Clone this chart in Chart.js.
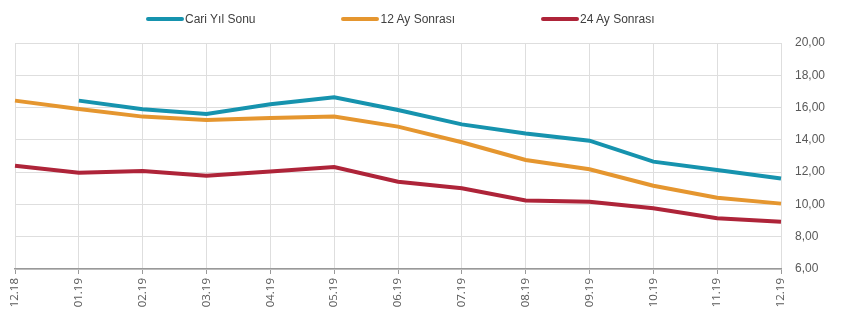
<!DOCTYPE html>
<html>
<head>
<meta charset="utf-8">
<script src="https://cdn.jsdelivr.net/npm/chart.js@4/dist/chart.umd.min.js"></script>
<style>
  body { margin: 0; background: #fff; }
  #wrap { position: relative; width: 850px; height: 328px; }
  #legend { position: absolute; top: 11px; left: 146px; font-family: "Liberation Sans", sans-serif; font-size: 12px; color: #404040; display: flex; line-height: 16px; }
  #legend .item { display: flex; align-items: center; margin-right: 86px; }
  #legend .swatch { width: 38px; height: 4px; border-radius: 2px; margin-right: 1px; }
</style>
</head>
<body>
<div id="wrap">
  <canvas id="myChart" width="850" height="328"></canvas>
  <div id="legend"></div>
</div>
<script>
const labels = ["12.18", "01.19", "02.19", "03.19", "04.19", "05.19", "06.19", "07.19", "08.19", "09.19", "10.19", "11.19", "12.19"];
const cariYilSonu = [null, 16.43, 15.9, 15.6, 16.2, 16.64, 15.85, 14.96, 14.4, 13.95, 12.65, 12.13, 11.6];
const ay12Sonrasi = [16.43, 15.91, 15.44, 15.23, 15.36, 15.44, 14.82, 13.85, 12.75, 12.18, 11.16, 10.42, 10.05];
const ay24Sonrasi = [12.4, 11.97, 12.07, 11.78, 12.04, 12.32, 11.41, 11.0, 10.24, 10.17, 9.76, 9.14, 8.93];
const yTicks = [6, 8, 10, 12, 14, 16, 18, 20];

const series = [
  { label: "Cari Yıl Sonu", data: cariYilSonu, color: "#1693ae" },
  { label: "12 Ay Sonrası", data: ay12Sonrasi, color: "#e5962f" },
  { label: "24 Ay Sonrası", data: ay24Sonrasi, color: "#ae2439" }
];

const legend = document.getElementById("legend");
series.forEach(s => {
  const item = document.createElement("div");
  item.className = "item";
  const sw = document.createElement("span");
  sw.className = "swatch";
  sw.style.background = s.color;
  const txt = document.createElement("span");
  txt.textContent = s.label;
  item.appendChild(sw);
  item.appendChild(txt);
  legend.appendChild(item);
});

const ctx = document.getElementById("myChart").getContext("2d");
const chart = new Chart(ctx, {
  type: "line",
  data: {
    labels: labels,
    datasets: series.map(s => ({
      label: s.label,
      data: s.data,
      borderColor: s.color,
      backgroundColor: s.color,
      borderWidth: 4,
      pointRadius: 0,
      tension: 0,
      fill: false
    }))
  },
  options: {
    responsive: false,
    animation: false,
    layout: { padding: { top: 43, left: 15, right: 0, bottom: 0 } },
    plugins: { legend: { display: false }, tooltip: { enabled: false } },
    scales: {
      x: {
        offset: false,
        grid: { color: "#dedede", tickColor: "#999", tickLength: 5, lineWidth: 1 },
        border: { color: "#999", width: 1.5 },
        ticks: {
          maxRotation: 90, minRotation: 90, autoSkip: false,
          color: "#595959", padding: 4,
          font: { family: "Open Sans", size: 11.5 }
        },
        afterFit: axis => { axis.height = 59; }
      },
      y: {
        position: "right",
        min: 6, max: 20,
        afterBuildTicks: axis => { axis.ticks = yTicks.map(v => ({ value: v })); },
        grid: { color: "#dedede", drawTicks: false },
        border: { display: false },
        ticks: {
          color: "#595959", padding: 14,
          font: { family: "Liberation Sans", size: 12 },
          callback: v => v.toFixed(2).replace(".", ",")
        },
        afterFit: axis => { axis.width = 69; }
      }
    }
  }
});
</script>
</body>
</html>
